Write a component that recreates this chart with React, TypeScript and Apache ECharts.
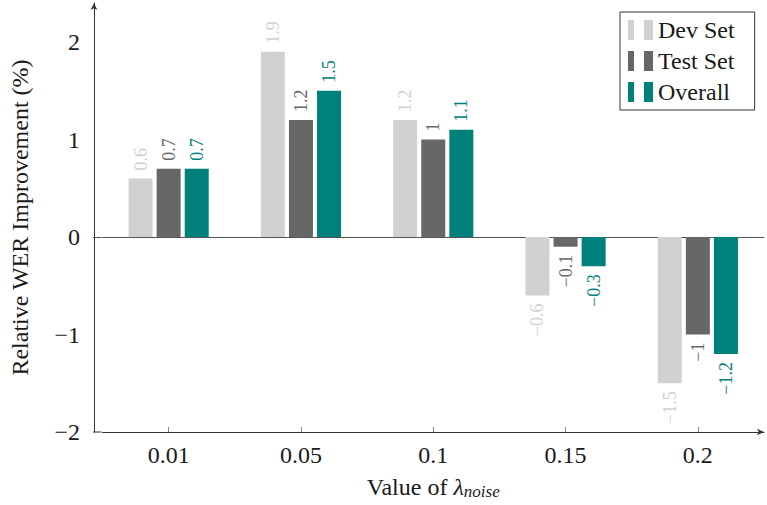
import React, { useEffect, useRef } from "react";
import * as echarts from "echarts";

const categories = ["0.01", "0.05", "0.1", "0.15", "0.2"];
const devSet = [0.6, 1.9, 1.2, -0.6, -1.5];
const testSet = [0.7, 1.2, 1.0, -0.1, -1.0];
const overall = [0.7, 1.5, 1.1, -0.3, -1.2];
const yTicks = [-2, -1, 0, 1, 2];

const FONT = "Liberation Serif";

function fmt(v: number): string {
  const s = String(Math.abs(v));
  return v < 0 ? "\u2212" + s : s;
}

function makeSeries(name: string, values: number[], color: string) {
  return {
    name,
    type: "bar",
    barWidth: 24,
    barGap: "17%",
    itemStyle: { color },
    data: values.map((v) => ({
      value: v,
      label: {
        show: true,
        position: v >= 0 ? "top" : "bottom",
        rotate: 90,
        align: v >= 0 ? "left" : "right",
        verticalAlign: "middle",
        distance: 8,
        color,
        fontFamily: FONT,
        fontSize: 18,
        formatter: () => fmt(v),
      },
    })),
  };
}

export default function App() {
  const ref = useRef<HTMLDivElement>(null);
  useEffect(() => {
    if (!ref.current) return;
    const chart = echarts.init(ref.current, undefined, { renderer: "svg" });
    const gridLeft = 101.5;
    const gridWidth = 662.5;
    const series: any[] = [
      makeSeries("Dev Set", devSet, "#d0d2d0"),
      makeSeries("Test Set", testSet, "#676767"),
      makeSeries("Overall", overall, "#00807a"),
    ];
    chart.setOption({
      animation: false,
      backgroundColor: "#ffffff",
      grid: { left: gridLeft, width: gridWidth, top: 3, bottom: 73 },
      legend: {
        orient: "vertical",
        left: 620,
        top: 12,
        backgroundColor: "#ffffff",
        borderColor: "#333333",
        borderWidth: 1,
        borderRadius: 0,
        padding: [6, 20, 6, 8],
        itemGap: 7,
        itemWidth: 25,
        itemHeight: 20,
        icon: "path://M0,0H6V20H0Z M16,0H25V20H16Z",
        textStyle: { fontFamily: FONT, fontSize: 24, color: "#1a1a1a" },
        data: ["Dev Set", "Test Set", "Overall"],
      },
      xAxis: [
        {
          type: "category",
          data: categories,
          position: "bottom",
          axisLine: {
            onZero: false,
            lineStyle: { color: "#333333", width: 1 },
            symbol: ["none", "arrow"],
            symbolSize: [5, 7],
          },
          axisTick: {
            show: true,
            alignWithLabel: true,
            inside: true,
            length: 5,
            lineStyle: { color: "#888888" },
          },
          axisLabel: {
            fontFamily: FONT,
            fontSize: 24,
            color: "#1a1a1a",
            margin: 11,
          },
          name: "Value of {i|\u03bb}{s|noise}",
          nameLocation: "middle",
          nameGap: 41,
          nameTextStyle: {
            fontFamily: FONT,
            fontSize: 24,
            color: "#1a1a1a",
            rich: {
              i: { fontFamily: FONT, fontSize: 24, fontStyle: "italic", color: "#1a1a1a" },
              s: {
                fontFamily: FONT,
                fontSize: 17,
                fontStyle: "italic",
                color: "#1a1a1a",
                padding: [10, 0, 0, 0],
              },
            },
          },
        },
        {
          type: "category",
          data: categories,
          axisLine: { onZero: true, lineStyle: { color: "#555555", width: 1 } },
          axisTick: { show: false },
          axisLabel: { show: false },
        },
      ],
      yAxis: {
        type: "value",
        min: -2,
        max: 2.4,
        interval: 1,
        offset: 8.5,
        axisLine: {
          show: true,
          lineStyle: { color: "#333333", width: 1 },
          symbol: ["none", "arrow"],
          symbolSize: [5, 7],
        },
        axisTick: { show: false },
        splitLine: { show: false },
        axisLabel: {
          fontFamily: FONT,
          fontSize: 24,
          color: "#1a1a1a",
          margin: 14,
          formatter: (v: number) => (yTicks.includes(v) ? fmt(v) : ""),
        },
        name: "Relative WER Improvement (%)",
        nameLocation: "middle",
        nameGap: 62,
        nameTextStyle: { fontFamily: FONT, fontSize: 24, color: "#1a1a1a" },
      },
      graphic: [
        {
          type: "line",
          shape: { x1: gridLeft - 8.5, y1: 432, x2: gridLeft, y2: 432 },
          style: { stroke: "#333333", lineWidth: 1 },
        },
        {
          type: "line",
          shape: { x1: gridLeft - 8.5, y1: 237.5, x2: gridLeft, y2: 237.5 },
          style: { stroke: "#555555", lineWidth: 1 },
        },
      ],
      series,
    });
    return () => chart.dispose();
  }, []);
  return (
    <div
      ref={ref}
      style={{ position: "fixed", left: 0, top: 0, width: 767, height: 505 }}
    />
  );
}
